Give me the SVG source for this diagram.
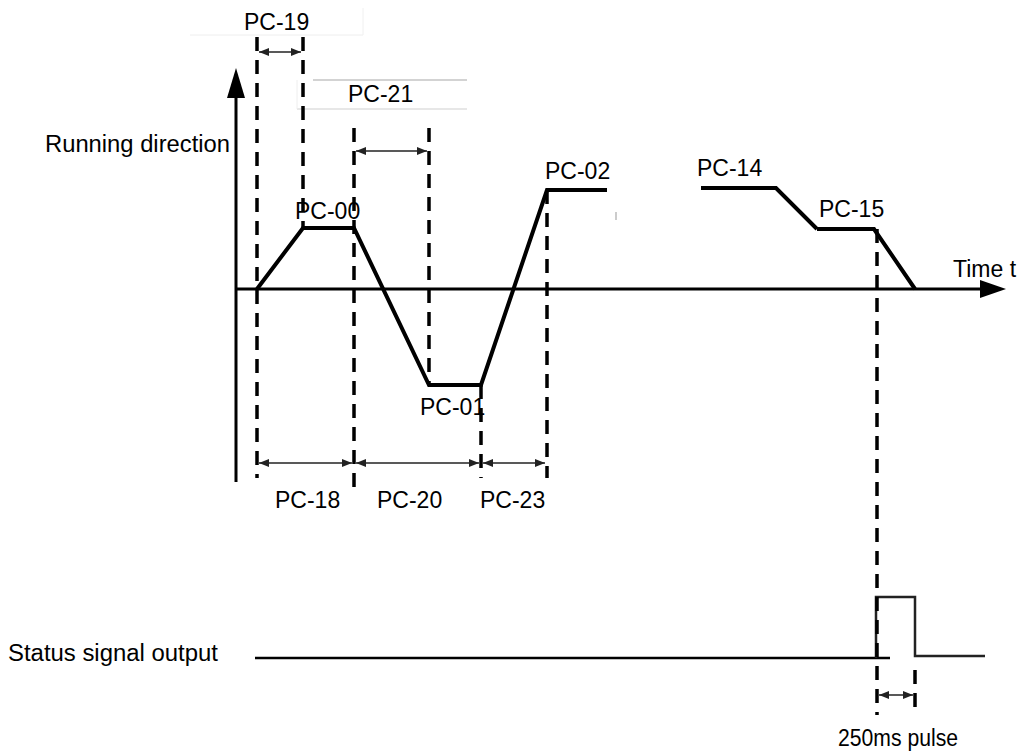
<svg xmlns="http://www.w3.org/2000/svg" width="1021" height="752" viewBox="0 0 1021 752">
<style>
text{font-family:"Liberation Sans",Arial,sans-serif;font-size:23px;fill:#000}
.dash{stroke:#000;stroke-width:3.5;stroke-dasharray:14 9;fill:none}
.dim{stroke:#222;stroke-width:1.6;fill:none;marker-start:url(#ah);marker-end:url(#ah)}
.curve{stroke:#000;stroke-width:4;fill:none;stroke-linejoin:miter}
.axis{stroke:#000;stroke-width:3;fill:none}
</style>
<defs>
<marker id="ah" viewBox="0 0 10 8" refX="10" refY="4" markerWidth="10" markerHeight="8" markerUnits="userSpaceOnUse" orient="auto-start-reverse">
<path d="M0,0 L10,4 L0,8 Z" fill="#222"/>
</marker>
</defs>
<rect width="1021" height="752" fill="#fff"/>
<g id="label-boxes">
<line x1="190" y1="35" x2="363" y2="35" stroke="#eeeeee" stroke-width="1"/>
<line x1="363" y1="8" x2="363" y2="35" stroke="#f0f0f0" stroke-width="1"/>
<line x1="313" y1="80" x2="467" y2="80" stroke="#a8a8a8" stroke-width="1.2"/>
<line x1="297" y1="109" x2="467" y2="109" stroke="#d0d0d0" stroke-width="1.2"/>
<line x1="297" y1="80" x2="297" y2="109" stroke="#eeeeee" stroke-width="1"/>
</g>
<g id="axes">
<line class="axis" x1="236" y1="95" x2="236" y2="482"/>
<polygon points="236,68 227,98 245,98" fill="#000"/>
<line class="axis" x1="236" y1="289" x2="985" y2="289" stroke-width="3.5"/>
<polygon points="1006,289 980,280 980,298" fill="#000"/>
</g>
<g id="running-curve">
<polyline class="curve" points="257,289 303,228 354,228 429,385 481,385 547,190 607,190"/>
<polyline class="curve" points="701,188 776,188 817,229"/>
<polyline class="curve" stroke-width="2.8" points="817,229 874,229 915,289"/>
<line x1="616" y1="212" x2="616" y2="220" stroke="#999" stroke-width="1"/>
</g>
<g id="status-signal">
<line x1="255" y1="658" x2="890" y2="658" stroke="#000" stroke-width="2.5"/>
<polyline points="876,658 876,597 915,597 915,656 985,656" fill="none" stroke="#222" stroke-width="2.5"/>
</g>
<g id="labels">
<text x="244" y="30">PC-19</text>
<text x="348" y="102">PC-21</text>
<text x="45" y="152" textLength="185" lengthAdjust="spacingAndGlyphs">Running direction</text>
<text x="295" y="219">PC-00</text>
<text x="545" y="179">PC-02</text>
<text x="697" y="176">PC-14</text>
<text x="819" y="217">PC-15</text>
<text x="953" y="277">Time t</text>
<text x="420" y="415">PC-01</text>
<text x="275" y="508">PC-18</text>
<text x="377" y="508">PC-20</text>
<text x="480" y="508">PC-23</text>
<text x="8" y="661" font-size="24" textLength="210" lengthAdjust="spacingAndGlyphs">Status signal output</text>
<text x="838" y="746" font-size="21" textLength="120" lengthAdjust="spacingAndGlyphs">250ms pulse</text>
</g>
<g id="connectors">
<line class="dash" x1="257" y1="37" x2="257" y2="478"/>
<line class="dash" x1="303" y1="37" x2="303" y2="228"/>
<line class="dash" x1="354" y1="128" x2="354" y2="490"/>
<line class="dash" x1="429" y1="128" x2="429" y2="385"/>
<line class="dash" x1="481" y1="385" x2="481" y2="478"/>
<line class="dash" x1="547" y1="190" x2="547" y2="478"/>
<line class="dash" x1="877" y1="229" x2="877" y2="715"/>
<line class="dash" x1="915" y1="670" x2="915" y2="715"/>
<line class="dim" x1="259" y1="52" x2="301" y2="52"/>
<line class="dim" x1="356" y1="151" x2="427" y2="151"/>
<line class="dim" x1="259" y1="463" x2="352" y2="463"/>
<line class="dim" x1="356" y1="463" x2="479" y2="463"/>
<line class="dim" x1="483" y1="463" x2="545" y2="463"/>
<line class="dim" x1="879" y1="695" x2="913" y2="695"/>
</g>
</svg>
